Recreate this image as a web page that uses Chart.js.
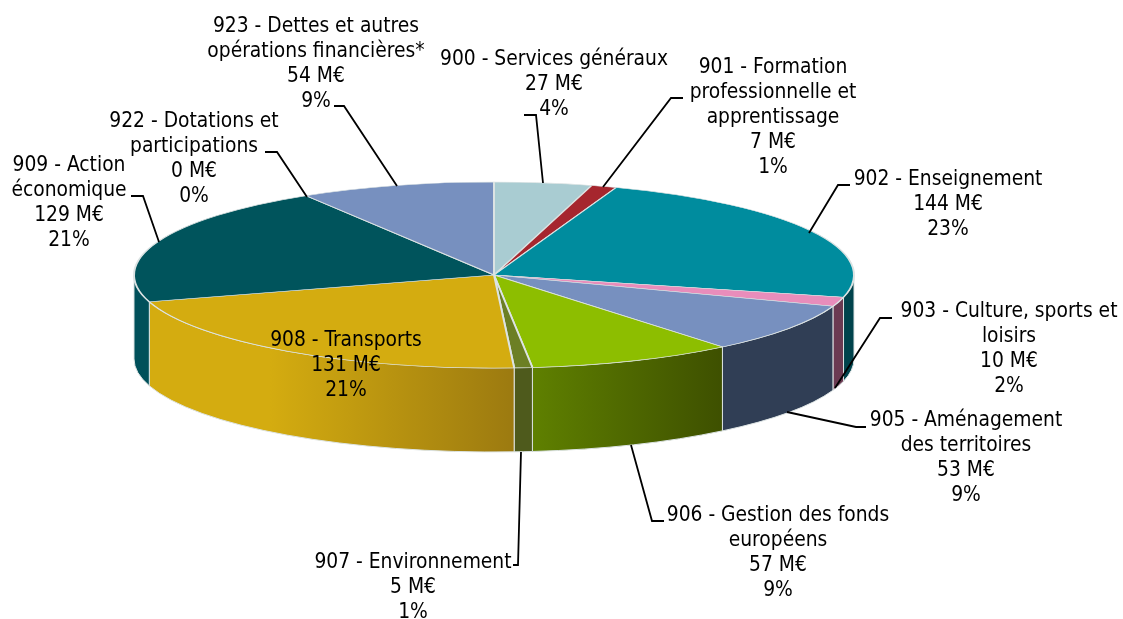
<!DOCTYPE html>
<html><head><meta charset="utf-8">
<style>html,body{margin:0;padding:0;background:#fff}canvas{display:block}</style>
<script src="https://cdn.jsdelivr.net/npm/chart.js@4"></script>
</head><body><canvas id="c" width="1123" height="619"></canvas>
<script>
const codes=['900','901','902','903','905','906','907','908','909','922','923'];
const names=[['Services généraux'],['Formation','professionnelle et','apprentissage'],['Enseignement'],['Culture, sports et','loisirs'],['Aménagement','des territoires'],['Gestion des fonds','européens'],['Environnement'],['Transports'],['Action','économique'],['Dotations et','participations'],['Dettes et autres','opérations financières*']];
const valuesME=[27,7,144,10,53,57,5,131,129,0,54];
const topColors=['#A9CCD2','#A6262E','#008C9E','#E88DBB','#7790BF','#8DBE00','#6C7F24','#D4AC10','#00545C','#00545C','#7790BF'];
const wallLeft=['#7A9498','#701A20','#00434C','#6B3A52','#303E55','#5F8000','#4E5A1C','#D4AC10','#00505A','#00505A','#50617F'];
const wallRight=['#7A9498','#701A20','#00434C','#6B3A52','#303E55','#3E5000','#4E5A1C','#9C7A10','#00505A','#00505A','#50617F'];
const labelCenters=[[554,60],[773,68],[948,180],[1009,312],[966,421],[778,516],[413,563],[346,341],[69,166],[194,122],[316,27]];
const leaders=[[[524,115],[536,115],[543,183]],[[683,98],[671,98],[603,187]],[[850,185],[838,185],[809,233]],[[892,318],[880,318],[835,388]],[[866,427],[856,427],[787,412]],[[664,521],[652,521],[631,445]],[[513,565],[518,565],[521,452]],[],[[131,196],[143,196],[159,242]],[[265,152],[277,152],[307,197]],[[334,106],[344,106],[397,186]]];
const squash=93/360, depth=84, lineGap=25;
const edge='#DCE3E3';
const FONT='20.8px "DejaVu Sans Condensed","DejaVu Sans"';
const total=valuesME.reduce((a,b)=>a+b,0);

const pie3d={id:'pie3d',
 beforeDatasetsDraw(chart){
  const ctx=chart.ctx, arcs=chart.getDatasetMeta(0).data;
  arcs.forEach((a,i)=>{
   if(!(a.endAngle>a.startAngle))return;
   const r=a.outerRadius, ry=r*squash, cx=a.x, cy=a.y;
   const ranges=[[a.startAngle,a.endAngle],[a.startAngle-2*Math.PI,a.endAngle-2*Math.PI]];
   ranges.forEach(([s0,e0])=>{
    const s=Math.max(s0,0), e=Math.min(e0,Math.PI);
    if(e<=s)return;
    const xs=cx+r*Math.cos(s), xe=cx+r*Math.cos(e);
    const g=ctx.createLinearGradient(xe,0,xs,0);
    g.addColorStop(0,wallLeft[i]);
    g.addColorStop(i===7?0.33:0,wallLeft[i]);
    g.addColorStop(1,wallRight[i]);
    ctx.beginPath();
    ctx.ellipse(cx,cy,r,ry,0,s,e,false);
    ctx.ellipse(cx,cy+depth,r,ry,0,e,s,true);
    ctx.closePath();
    ctx.fillStyle=g;ctx.fill();
    ctx.strokeStyle=edge;ctx.lineWidth=1;ctx.stroke();
   });
  });
 },
 beforeDatasetDraw(chart){
  const ctx=chart.ctx,a=chart.getDatasetMeta(0).data[0];
  ctx.save();
  ctx.translate(a.x,a.y);ctx.scale(1,squash);ctx.translate(-a.x,-a.y);
 },
 afterDatasetDraw(chart){chart.ctx.restore();},
 afterDraw(chart){
  const ctx=chart.ctx;
  ctx.save();
  ctx.strokeStyle='#000';ctx.lineWidth=1.8;ctx.lineJoin='miter';
  leaders.forEach(p=>{
   if(!p.length)return;
   ctx.beginPath();p.forEach((q,k)=>k?ctx.lineTo(q[0],q[1]):ctx.moveTo(q[0],q[1]));ctx.stroke();
  });
  ctx.fillStyle='#000';ctx.font=FONT;ctx.textAlign='center';ctx.textBaseline='middle';
  codes.forEach((code,i)=>{
   const lines=names[i].slice();
   lines[0]=code+' - '+lines[0];
   lines.push(valuesME[i]+' M€',Math.round(valuesME[i]/total*100)+'%');
   const [x,y]=labelCenters[i];
   lines.forEach((t,k)=>ctx.fillText(t,x,y+k*lineGap));
  });
  ctx.restore();
 }
};

new Chart(document.getElementById('c'),{
 type:'pie',
 plugins:[pie3d],
 data:{labels:codes,datasets:[{data:valuesME,backgroundColor:topColors,borderColor:edge,borderWidth:2,clip:false,hoverOffset:0}]},
 options:{responsive:false,animation:false,events:[],radius:360,
  layout:{padding:{left:0,right:135,top:0,bottom:69}},
  plugins:{legend:{display:false},tooltip:{enabled:false},title:{display:false}}}
});
</script></body></html>
